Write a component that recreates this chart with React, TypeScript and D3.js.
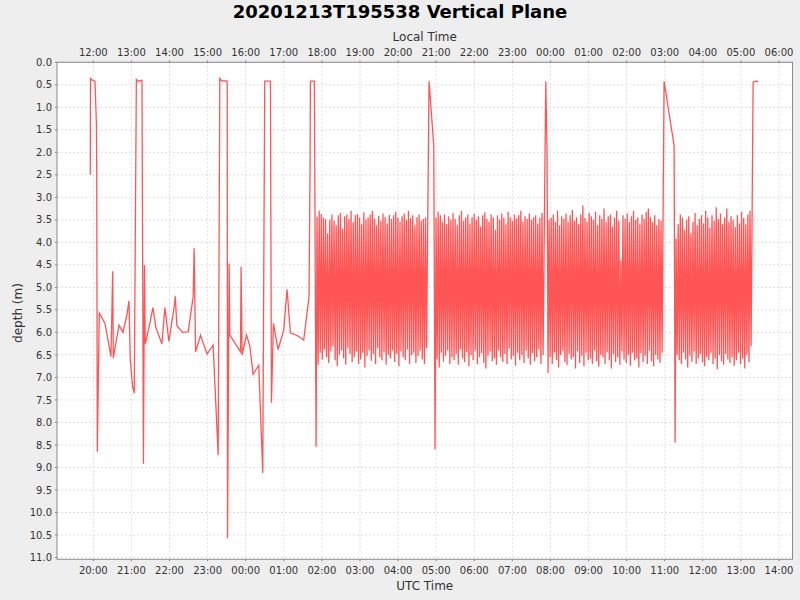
import React from "react";
import * as d3 from "d3";

// ---- data (UTC hours since 2020-12-13 00:00Z, depth in metres) ----
const sparseTimes = [
  19.921, 19.926, 19.958, 20.045, 20.081, 20.089, 20.105, 20.157, 20.307, 20.464,
  20.509, 20.524, 20.674, 20.778, 20.884, 20.936, 20.970, 21.030, 21.075, 21.130,
  21.180, 21.277, 21.316, 21.342, 21.363, 21.460, 21.565, 21.644, 21.801, 21.879,
  21.984, 22.128, 22.150, 22.194, 22.343, 22.490, 22.621, 22.647, 22.684, 22.815,
  22.868, 22.988, 23.145, 23.277, 23.321, 23.366, 23.515, 23.523, 23.565, 23.583,
  23.864, 23.879, 23.906, 24.021, 24.108, 24.194, 24.343, 24.448, 24.500, 24.650,
  24.676, 24.728, 24.849, 24.999, 25.085, 25.174, 25.374, 25.523, 25.662, 25.690,
  25.699, 25.803, 25.847,
];
const sparseDepths = [
  2.50, 0.36, 0.39, 0.42, 1.37, 2.30, 8.65, 5.57, 5.80, 6.54,
  4.64, 6.57, 5.84, 6.00, 5.60, 5.30, 6.60, 7.20, 7.35, 0.38,
  0.42, 0.40, 8.92, 4.50, 6.25, 5.90, 5.45, 5.90, 6.25, 5.45,
  6.20, 5.40, 5.20, 5.85, 6.00, 5.99, 5.21, 4.13, 6.43, 6.06,
  6.20, 6.48, 6.28, 8.73, 0.36, 0.41, 0.42, 10.57, 4.47, 6.06,
  6.43, 4.54, 6.50, 6.06, 6.30, 6.93, 6.73, 9.12, 0.42, 0.42,
  7.56, 5.80, 6.38, 5.95, 5.04, 6.01, 6.08, 6.17, 5.21, 2.30,
  0.42, 0.42, 8.54,
];

// yo-yo blocks: start/end time, tops and bottoms of each cycle
const block1Span = [25.873, 28.748];
const block1Tops = [3.43,3.30,3.37,3.45,3.48,3.80,3.50,3.38,3.52,3.62,3.40,3.35,3.70,3.42,3.38,3.48,3.30,3.55,3.40,3.37,3.45,3.60,3.33,3.50,3.45,3.38,3.30,3.47,3.62,3.41,3.52,3.36,3.44,3.58,3.39,3.48,3.40,3.32,3.45,3.55,3.42,3.36,3.50,3.30,3.46,3.40,3.62,3.44,3.38,3.52,3.48,3.45];
const block1Bottoms = [6.72,6.45,6.60,6.38,6.55,6.68,6.42,6.30,6.62,6.75,6.50,6.40,6.58,6.72,6.35,6.48,6.66,6.55,6.42,6.70,6.60,6.45,6.78,6.52,6.40,6.63,6.48,6.70,6.36,6.55,6.62,6.44,6.72,6.50,6.58,6.40,6.66,6.48,6.75,6.42,6.55,6.62,6.38,6.70,6.50,6.45,6.68,6.52,6.40,6.60,6.70,6.35];
const gap1Times = [28.813, 28.937, 28.971];
const gap1Depths = [0.42, 1.85, 8.60];

const block2Span = [28.997, 31.806];
const block2Tops = [3.45,3.32,3.40,3.55,3.38,3.60,3.42,3.50,3.35,3.48,3.62,3.40,3.30,3.52,3.45,3.38,3.58,3.44,3.36,3.50,3.42,3.65,3.40,3.33,3.48,3.55,3.38,3.45,3.72,3.40,3.50,3.36,3.46,3.60,3.32,3.44,3.52,3.38,3.47,3.40,3.30,3.55,3.42,3.48,3.36,3.50,3.44,3.40,3.58,3.45,3.35];
const block2Bottoms = [6.60,6.78,6.45,6.65,6.52,6.40,6.70,6.55,6.62,6.48,6.72,6.38,6.58,6.66,6.44,6.75,6.50,6.62,6.40,6.70,6.55,6.46,6.68,6.80,6.52,6.42,6.64,6.58,6.72,6.40,6.55,6.66,6.48,6.70,6.36,6.60,6.52,6.74,6.45,6.62,6.50,6.68,6.40,6.58,6.72,6.46,6.64,6.55,6.38,6.70,6.50];
const gap2Times = [31.877, 31.911, 31.938];
const gap2Depths = [0.42, 2.00, 6.90];

const block3Span = [31.964, 34.930];
const block3Tops = [3.50,3.45,3.38,3.55,3.30,3.62,3.42,3.48,3.36,3.55,3.40,3.28,3.52,3.44,3.60,3.38,3.18,3.46,3.55,3.35,3.42,3.50,3.32,3.62,3.40,3.48,3.25,3.55,3.42,3.38,3.65,3.45,3.30,3.52,4.40,3.40,3.48,3.36,3.55,3.42,3.30,3.50,3.45,3.60,3.38,3.48,3.32,3.25,3.44,3.55,3.40,3.62,3.48,3.52];
const block3Bottoms = [6.55,6.70,6.45,6.62,6.78,6.50,6.40,6.66,6.72,6.48,6.60,6.55,6.80,6.42,6.68,6.52,6.75,6.45,6.62,6.58,6.70,6.40,6.64,6.76,6.50,6.56,6.70,6.44,6.62,6.80,6.48,6.66,6.55,6.72,6.42,6.60,6.68,6.50,6.74,6.45,6.62,6.58,6.78,6.46,6.66,6.52,6.70,6.40,6.64,6.75,6.50,6.60,6.68,6.45];
const gap3Times = [34.983, 35.246, 35.272];
const gap3Depths = [0.42, 1.85, 8.45];

const block4Span = [35.298, 37.267];
const block4Tops = [3.92,3.60,3.38,3.45,3.72,3.50,3.42,3.80,3.55,3.35,3.62,3.48,3.40,3.58,3.30,3.45,3.68,3.40,3.52,3.22,3.48,3.36,3.60,3.45,3.25,3.55,3.42,3.50,3.66,3.40,3.58,3.32,3.46,3.60,3.38,3.30];
const block4Bottoms = [6.50,6.62,6.70,6.45,6.60,6.78,6.52,6.65,6.42,6.70,6.58,6.48,6.66,6.75,6.55,6.62,6.45,6.70,6.58,6.82,6.50,6.64,6.72,6.48,6.60,6.68,6.55,6.74,6.62,6.45,6.70,6.58,6.80,6.50,6.66,6.30];
const endTimes = [37.320, 37.335, 37.400, 37.451];
const endDepths = [0.45, 0.43, 0.42, 0.43];

const yTickValues = [0,0.5,1,1.5,2,2.5,3,3.5,4,4.5,5,5.5,6,6.5,7,7.5,8,8.5,9,9.5,10,10.5,11];
const TITLE = "20201213T195538 Vertical Plane";
const LOCAL_OFFSET_H = -8;

// ---- build series ----
type Pt = { t: number; d: number };
const pairs = (ts: number[], ds: number[]): Pt[] => ts.map((t, i) => ({ t, d: ds[i] }));
const block = (span: number[], tops: number[], bottoms: number[]): Pt[] => {
  const n = tops.length;
  const step = (span[1] - span[0]) / (n - 0.5);
  const out: Pt[] = [];
  for (let i = 0; i < n; i++) {
    out.push({ t: span[0] + i * step, d: tops[i] });
    out.push({ t: span[0] + (i + 0.5) * step, d: bottoms[i] });
  }
  return out;
};
const series: Pt[] = [
  ...pairs(sparseTimes, sparseDepths),
  ...block(block1Span, block1Tops, block1Bottoms),
  ...pairs(gap1Times, gap1Depths),
  ...block(block2Span, block2Tops, block2Bottoms),
  ...pairs(gap2Times, gap2Depths),
  ...block(block3Span, block3Tops, block3Bottoms),
  ...pairs(gap3Times, gap3Depths),
  ...block(block4Span, block4Tops, block4Bottoms),
  ...pairs(endTimes, endDepths),
];

const BASE = Date.UTC(2020, 11, 13);
const toDate = (h: number) => new Date(BASE + h * 3600000);

export default function App() {
  const L = 57, R = 792.5, T = 62.3, B = 559.3;
  const x = d3.scaleUtc().domain([toDate(19.047), toDate(38.354)]).range([L, R]);
  const y = d3.scaleLinear().domain([0, 11.04]).range([T, B]);
  const xTicks = x.ticks(d3.utcHour.every(1) as any);
  const fmt = d3.utcFormat("%H:%M");
  const fmtLocal = (d: Date) => fmt(new Date(d.getTime() + LOCAL_OFFSET_H * 3600000));
  const line = d3.line<Pt>().x((p) => x(toDate(p.t))).y((p) => y(p.d));
  const font = "'DejaVu Sans', sans-serif";
  const tickColor = "#333";

  return (
    <svg width={800} height={600} style={{ position: "absolute", left: 0, top: 0 }} fontFamily={font}>
      <rect width={800} height={600} fill="#eeeeee" />
      <rect x={L} y={T} width={R - L} height={B - T} fill="#ffffff" />
      {xTicks.map((d, i) => (
        <line key={"gx" + i} x1={x(d)} x2={x(d)} y1={T} y2={B} stroke="#dedede" strokeDasharray="2,2" />
      ))}
      {yTickValues.map((v, i) => (
        <line key={"gy" + i} x1={L} x2={R} y1={y(v)} y2={y(v)} stroke="#dedede" strokeDasharray="2,2" />
      ))}
      <defs>
        <clipPath id="plotclip">
          <rect x={L} y={T} width={R - L} height={B - T} />
        </clipPath>
      </defs>
      <path d={line(series) || ""} fill="none" stroke="#ff5555" strokeWidth={1.3} strokeLinejoin="miter" clipPath="url(#plotclip)" />
      <rect x={L} y={T} width={R - L} height={B - T} fill="none" stroke="#8a8a8a" strokeWidth={1} />
      {/* bottom axis */}
      {xTicks.map((d, i) => (
        <g key={"bx" + i}>
          <line x1={x(d)} x2={x(d)} y1={B} y2={B + 2} stroke="#8a8a8a" />
          <text x={x(d)} y={574} fontSize={10} textAnchor="middle" fill={tickColor}>{fmt(d)}</text>
        </g>
      ))}
      {/* top axis (local time) */}
      {xTicks.map((d, i) => (
        <g key={"tx" + i}>
          <line x1={x(d)} x2={x(d)} y1={T - 2} y2={T} stroke="#8a8a8a" />
          <text x={x(d)} y={56} fontSize={10} textAnchor="middle" fill={tickColor}>{fmtLocal(d)}</text>
        </g>
      ))}
      {/* left axis */}
      {yTickValues.map((v, i) => (
        <g key={"ly" + i}>
          <line x1={L - 2} x2={L} y1={y(v)} y2={y(v)} stroke="#8a8a8a" />
          <text x={52} y={y(v) + 3.6} fontSize={10} textAnchor="end" fill={tickColor}>{v.toFixed(1)}</text>
        </g>
      ))}
      <text x={400} y={18.3} fontSize={18} fontWeight="bold" textAnchor="middle" fill="#000">{TITLE}</text>
      <text x={(L + R) / 2} y={41} fontSize={12} textAnchor="middle" fill={tickColor}>Local Time</text>
      <text x={(L + R) / 2} y={590} fontSize={12} textAnchor="middle" fill={tickColor}>UTC Time</text>
      <text transform={`translate(22,313) rotate(-90)`} fontSize={12} textAnchor="middle" fill={tickColor}>depth (m)</text>
    </svg>
  );
}
